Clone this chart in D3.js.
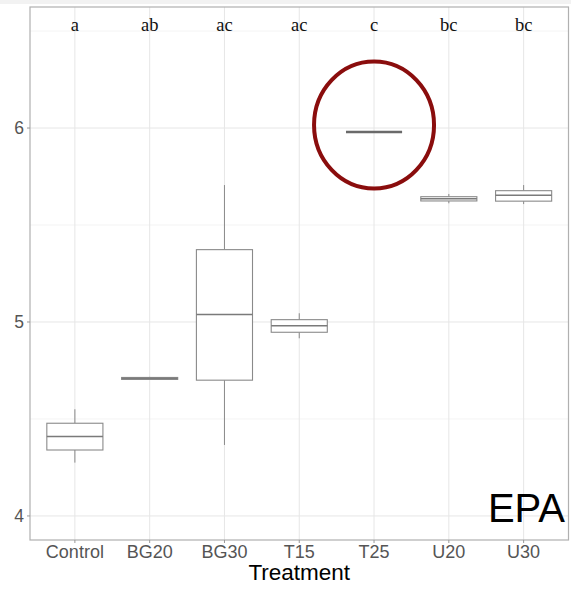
<!DOCTYPE html>
<html>
<head>
<meta charset="utf-8">
<script src="https://cdn.jsdelivr.net/npm/d3@7"></script>
<style>
  html, body { margin: 0; padding: 0; background: #fff; }
  svg { display: block; }
</style>
</head>
<body>
<svg id="chart" width="571" height="589"></svg>
<script>
// EPA by treatment: box summaries (whisker low, Q1, median, Q3, whisker high)
const categories = ["Control", "BG20", "BG30", "T15", "T25", "U20", "U30"];
const whiskerLow = [4.275, 4.702, 4.366, 4.916, 5.980, 5.612, 5.608];
const q1         = [4.340, 4.704, 4.700, 4.947, 5.980, 5.624, 5.623];
const median     = [4.410, 4.709, 5.038, 4.981, 5.980, 5.636, 5.654];
const q3         = [4.478, 4.714, 5.373, 5.012, 5.980, 5.646, 5.677];
const whiskerHigh= [4.550, 4.717, 5.706, 5.045, 5.980, 5.660, 5.706];
const groupLetters = ["a", "ab", "ac", "ac", "c", "bc", "bc"];
const yTicks = [4, 5, 6];
const yMinor = [4.5, 5.5, 6.5];
const highlighted = "T25";
const panelLabel = "EPA";
const xTitle = "Treatment";

const svg = d3.select("#chart");
const W = 571, H = 589;
const panel = { left: 30, top: 7, right: 568.5, bottom: 540 };

// faint strip along the top edge
svg.append("rect").attr("x", 0).attr("y", 0).attr("width", W).attr("height", 4)
  .attr("fill", "#f2f2f2");

const x = d3.scalePoint().domain(categories)
  .range([panel.left, panel.right]).padding(0.6);
const step = x.step();
const boxW = step * 0.75;

const y = d3.scaleLinear().domain([3.876, 6.624]).range([panel.bottom, panel.top]);

const g = svg.append("g");

// minor gridlines
g.selectAll("line.minor").data(yMinor).join("line")
  .attr("x1", panel.left).attr("x2", panel.right)
  .attr("y1", d => y(d)).attr("y2", d => y(d))
  .attr("stroke", "#f0f0f0").attr("stroke-width", 0.8);

// major gridlines
g.selectAll("line.majorY").data(yTicks).join("line")
  .attr("x1", panel.left).attr("x2", panel.right)
  .attr("y1", d => y(d)).attr("y2", d => y(d))
  .attr("stroke", "#e6e6e6").attr("stroke-width", 1);
g.selectAll("line.majorX").data(categories).join("line")
  .attr("x1", d => x(d)).attr("x2", d => x(d))
  .attr("y1", panel.top).attr("y2", panel.bottom)
  .attr("stroke", "#e6e6e6").attr("stroke-width", 1);

// boxplots
const rows = categories.map((c, i) => ({
  c, lo: whiskerLow[i], q1: q1[i], med: median[i], q3: q3[i], hi: whiskerHigh[i]
}));
const box = g.selectAll("g.box").data(rows).join("g");
const boxStroke = "#8a8a8a";
box.append("line")
  .attr("x1", d => x(d.c)).attr("x2", d => x(d.c))
  .attr("y1", d => y(d.hi)).attr("y2", d => y(d.q3))
  .attr("stroke", boxStroke).attr("stroke-width", 1);
box.append("line")
  .attr("x1", d => x(d.c)).attr("x2", d => x(d.c))
  .attr("y1", d => y(d.q1)).attr("y2", d => y(d.lo))
  .attr("stroke", boxStroke).attr("stroke-width", 1);
box.append("rect")
  .attr("x", d => x(d.c) - boxW / 2).attr("width", boxW)
  .attr("y", d => y(d.q3)).attr("height", d => Math.max(0, y(d.q1) - y(d.q3)))
  .attr("fill", "#fff").attr("stroke", boxStroke).attr("stroke-width", 1.1);
box.append("line")
  .attr("x1", d => x(d.c) - boxW / 2).attr("x2", d => x(d.c) + boxW / 2)
  .attr("y1", d => y(d.med)).attr("y2", d => y(d.med))
  .attr("stroke", d => d.c === highlighted ? "#6a6a6a" : "#7a7a7a")
  .attr("stroke-width", d => d.c === highlighted ? 2.5 : 1.5);

// panel border
svg.append("rect")
  .attr("x", panel.left).attr("y", panel.top)
  .attr("width", panel.right - panel.left).attr("height", panel.bottom - panel.top)
  .attr("fill", "none").attr("stroke", "#b0b0b0").attr("stroke-width", 1.2);

// y axis ticks and labels
const yAxis = svg.append("g");
yAxis.selectAll("line").data(yTicks).join("line")
  .attr("x1", panel.left - 3).attr("x2", panel.left)
  .attr("y1", d => y(d)).attr("y2", d => y(d))
  .attr("stroke", "#999").attr("stroke-width", 1);
yAxis.selectAll("text").data(yTicks).join("text")
  .attr("x", panel.left - 6).attr("y", d => y(d)).attr("dy", "0.35em")
  .attr("text-anchor", "end")
  .attr("font-family", "Liberation Sans, Arial, sans-serif")
  .attr("font-size", 17.5).attr("fill", "#555")
  .text(d => d3.format("d")(d));

// x axis ticks and labels
const xAxis = svg.append("g");
xAxis.selectAll("line").data(categories).join("line")
  .attr("x1", d => x(d)).attr("x2", d => x(d))
  .attr("y1", panel.bottom).attr("y2", panel.bottom + 3)
  .attr("stroke", "#999").attr("stroke-width", 1);
xAxis.selectAll("text").data(categories).join("text")
  .attr("x", d => x(d)).attr("y", 557.5)
  .attr("text-anchor", "middle")
  .attr("font-family", "Liberation Sans, Arial, sans-serif")
  .attr("font-size", 18).attr("fill", "#555")
  .text(d => d);

svg.append("text")
  .attr("x", (panel.left + panel.right) / 2).attr("y", 580)
  .attr("text-anchor", "middle")
  .attr("font-family", "Liberation Sans, Arial, sans-serif")
  .attr("font-size", 22.5).attr("fill", "#000")
  .text(xTitle);

// significance group letters
svg.append("g").selectAll("text").data(categories).join("text")
  .attr("x", d => x(d)).attr("y", 30.5)
  .attr("text-anchor", "middle")
  .attr("font-family", "Liberation Serif, DejaVu Serif, serif")
  .attr("font-size", 18.5).attr("fill", "#111")
  .text((d, i) => groupLetters[i]);

// panel tag
svg.append("text")
  .attr("x", 565).attr("y", 521.5)
  .attr("text-anchor", "end")
  .attr("font-family", "Liberation Sans, Arial, sans-serif")
  .attr("font-size", 40).attr("fill", "#000")
  .text(panelLabel);

// highlight ring around the T25 group
const hiRow = rows.find(r => r.c === highlighted);
svg.append("ellipse")
  .attr("cx", x(highlighted)).attr("cy", y(hiRow.med) - 7)
  .attr("rx", 60).attr("ry", 63.5)
  .attr("fill", "none").attr("stroke", "#8a0d0d").attr("stroke-width", 4);
</script>
</body>
</html>
